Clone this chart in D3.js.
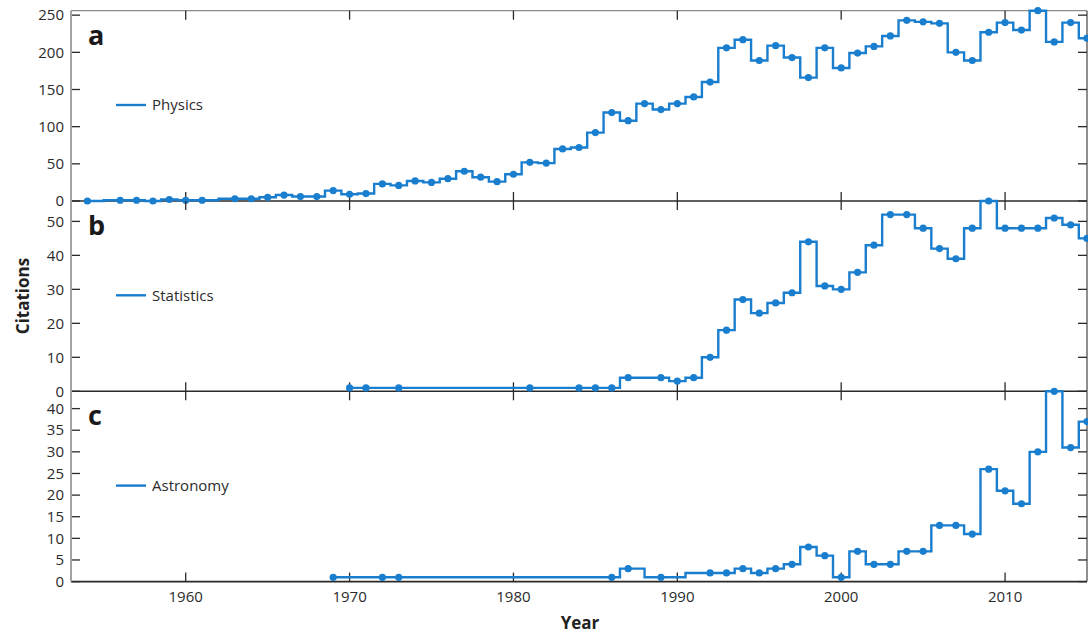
<!DOCTYPE html>
<html>
<head>
<meta charset="utf-8">
<script src="https://cdn.jsdelivr.net/npm/d3@7"></script>
<style>
  body { margin: 0; background: #fff; }
  svg { font-family: "Open Sans", sans-serif; }
  .tick-label { font-size: 15px; fill: #2b2b2b; }
  .axis-title { font-size: 17px; font-weight: bold; fill: #222; }
  .panel-letter { font-size: 27px; font-weight: bold; fill: #1a1a1a; }
  .legend-label { font-size: 15px; fill: #2b2b2b; }
</style>
</head>
<body>
<svg width="1088" height="637"></svg>
<script>
const physicsYears = [1954, 1956, 1957, 1958, 1959, 1960, 1961, 1963, 1964, 1965, 1966, 1967, 1968, 1969,
  1970, 1971, 1972, 1973, 1974, 1975, 1976, 1977, 1978, 1979, 1980, 1981, 1982, 1983, 1984, 1985,
  1986, 1987, 1988, 1989, 1990, 1991, 1992, 1993, 1994, 1995, 1996, 1997, 1998, 1999, 2000, 2001,
  2002, 2003, 2004, 2005, 2006, 2007, 2008, 2009, 2010, 2011, 2012, 2013, 2014, 2015];
const physicsValues = [0, 1, 1, 0, 2, 1, 1, 3, 3, 5, 8, 6, 6, 14,
  9, 10, 23, 21, 27, 25, 30, 40, 32, 26, 36, 52, 51, 70, 72, 92,
  119, 108, 131, 123, 131, 140, 160, 206, 217, 189, 209, 193, 166, 206, 179, 199,
  208, 222, 243, 241, 239, 200, 189, 227, 240, 230, 256, 214, 240, 219];

const statsYears = [1970, 1971, 1973, 1981, 1984, 1985, 1986, 1987, 1989, 1990, 1991, 1992, 1993,
  1994, 1995, 1996, 1997, 1998, 1999, 2000, 2001, 2002, 2003, 2004, 2005, 2006, 2007, 2008,
  2009, 2010, 2011, 2012, 2013, 2014, 2015];
const statsValues = [1, 1, 1, 1, 1, 1, 1, 4, 4, 3, 4, 10, 18,
  27, 23, 26, 29, 44, 31, 30, 35, 43, 52, 52, 48, 42, 39, 48,
  56, 48, 48, 48, 51, 49, 45];

const astroYears = [1969, 1972, 1973, 1986, 1987, 1989, 1992, 1993, 1994, 1995, 1996, 1997, 1998,
  1999, 2000, 2001, 2002, 2003, 2004, 2005, 2006, 2007, 2008, 2009, 2010, 2011, 2012, 2013, 2014, 2015];
const astroValues = [1, 1, 1, 1, 3, 1, 2, 2, 3, 2, 3, 4, 8,
  6, 1, 7, 4, 4, 7, 7, 13, 13, 11, 26, 21, 18, 30, 44, 31, 37];

const xTicks = [1960, 1970, 1980, 1990, 2000, 2010];
const panels = [
  { letter: "a", label: "Physics", years: physicsYears, values: physicsValues, yMax: 256, yTicks: [0, 50, 100, 150, 200, 250] },
  { letter: "b", label: "Statistics", years: statsYears, values: statsValues, yMax: 56, yTicks: [0, 10, 20, 30, 40, 50] },
  { letter: "c", label: "Astronomy", years: astroYears, values: astroValues, yMax: 44, yTicks: [0, 5, 10, 15, 20, 25, 30, 35, 40] }
];

const plotLeft = 71, plotRight = 1087, plotTop = 10.7, panelH = 190.3;
const blue = "#1a7ecf";
const tickLen = 9;

const svg = d3.select("svg");
const x = d3.scaleLinear().domain([1953, 2015]).range([plotLeft, plotRight]);

const line = d3.line()
  .x(d => x(d.year))
  .curve(d3.curveStep);

panels.forEach((p, i) => {
  const y0 = plotTop + i * panelH;
  const y1 = y0 + panelH;
  const y = d3.scaleLinear().domain([0, p.yMax]).range([y1, y0]);
  const g = svg.append("g");
  const pts = p.years.map((yr, j) => ({ year: yr, value: p.values[j] }));

  // box: top / right / bottom dark, left gray
  if (i === 0) {
    g.append("line").attr("x1", plotLeft).attr("x2", plotRight).attr("y1", y0).attr("y2", y0)
      .attr("stroke", "#8a8a8a").attr("stroke-width", 1.2);
  }
  g.append("line").attr("x1", plotRight).attr("x2", plotRight).attr("y1", y0).attr("y2", y1)
    .attr("stroke", "#444").attr("stroke-width", 1.2);
  g.append("line").attr("x1", plotLeft).attr("x2", plotRight).attr("y1", y1).attr("y2", y1)
    .attr("stroke", "#2a2a2a").attr("stroke-width", 1.6);

  // x ticks inward at top and bottom
  xTicks.forEach(t => {
    g.append("line").attr("x1", x(t)).attr("x2", x(t)).attr("y1", y1).attr("y2", y1 - tickLen)
      .attr("stroke", "#2a2a2a").attr("stroke-width", 1.3);
    g.append("line").attr("x1", x(t)).attr("x2", x(t)).attr("y1", y0).attr("y2", y0 + tickLen)
      .attr("stroke", "#2a2a2a").attr("stroke-width", 1.3);
  });

  // y ticks inward on both sides, labels on the left
  p.yTicks.forEach(t => {
    g.append("line").attr("x1", plotLeft).attr("x2", plotLeft + tickLen).attr("y1", y(t)).attr("y2", y(t))
      .attr("stroke", "#2a2a2a").attr("stroke-width", 1.3);
    g.append("line").attr("x1", plotRight).attr("x2", plotRight - tickLen).attr("y1", y(t)).attr("y2", y(t))
      .attr("stroke", "#2a2a2a").attr("stroke-width", 1.3);
    g.append("text").attr("class", "tick-label")
      .attr("x", plotLeft - 7).attr("y", y(t)).attr("dy", "0.35em")
      .attr("text-anchor", "end").text(t);
  });

  g.append("path")
    .datum(pts)
    .attr("fill", "none")
    .attr("stroke", blue)
    .attr("stroke-width", 2.4)
    .attr("d", line.y(d => y(d.value)));

  g.selectAll("circle").data(pts).join("circle")
    .attr("cx", d => x(d.year))
    .attr("cy", d => y(d.value))
    .attr("r", 3.6)
    .attr("fill", blue);

  g.append("text").attr("class", "panel-letter")
    .attr("x", 88).attr("y", y0 + 34).text(p.letter);

  g.append("line").attr("x1", 116).attr("x2", 146).attr("y1", y0 + 94.3).attr("y2", y0 + 94.3)
    .attr("stroke", blue).attr("stroke-width", 2.4);
  g.append("text").attr("class", "legend-label")
    .attr("x", 152).attr("y", y0 + 94.3).attr("dy", "0.35em").text(p.label);
});

// gray left spine
svg.append("line").attr("x1", plotLeft).attr("x2", plotLeft).attr("y1", plotTop).attr("y2", plotTop + 3 * panelH)
  .attr("stroke", "#a3a3a3").attr("stroke-width", 2);

// x tick labels
xTicks.forEach(t => {
  svg.append("text").attr("class", "tick-label")
    .attr("x", x(t)).attr("y", plotTop + 3 * panelH + 15).attr("dy", "0.35em")
    .attr("text-anchor", "middle").text(t);
});

svg.append("text").attr("class", "axis-title")
  .attr("x", 580).attr("y", 623).attr("dy", "0.35em")
  .attr("text-anchor", "middle").text("Year");

svg.append("text").attr("class", "axis-title")
  .attr("transform", "translate(23,296) rotate(-90)")
  .attr("dy", "0.35em")
  .attr("text-anchor", "middle").text("Citations");
</script>
</body>
</html>
